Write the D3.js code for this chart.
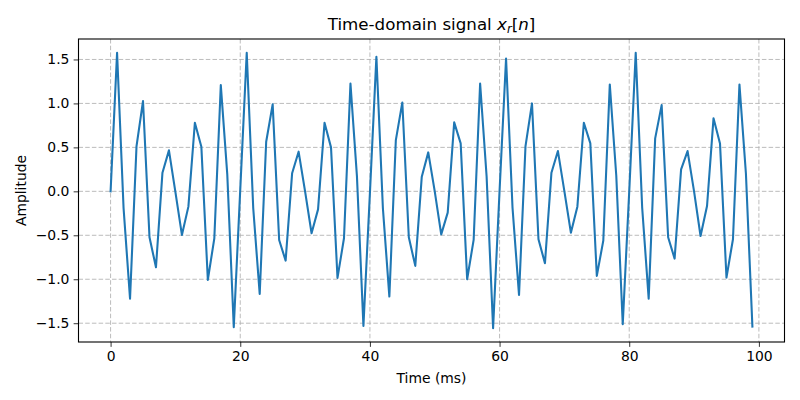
<!DOCTYPE html>
<html>
<head>
<meta charset="utf-8">
<script src="https://cdn.jsdelivr.net/npm/d3@7"></script>
<style>
  html, body { margin: 0; padding: 0; background: #fff; }
  svg { display: block; font-family: "DejaVu Sans", sans-serif; }
</style>
</head>
<body>
<svg id="chart" width="800" height="400"></svg>
<script>
// Sample index (ms) and amplitude values
const timeMs = d3.range(0, 100);
const amplitude = [
  0.0, 1.576, -0.19, -1.22, 0.515, 1.027, -0.523, -0.864, 0.212, 0.466,
  -0.01, -0.496, -0.174, 0.78, 0.508, -1.008, -0.534, 1.208, 0.19, -1.545,
  0.02, 1.576, -0.19, -1.167, 0.564, 0.989, -0.553, -0.788, 0.205, 0.451,
  0.0, -0.477, -0.205, 0.78, 0.5, -0.985, -0.534, 1.227, 0.17, -1.53,
  -0.02, 1.53, -0.19, -1.197, 0.583, 1.011, -0.523, -0.848, 0.167, 0.443,
  0.0, -0.489, -0.242, 0.784, 0.545, -1.0, -0.553, 1.227, 0.17, -1.557,
  0.01, 1.511, -0.19, -1.178, 0.515, 1.0, -0.545, -0.818, 0.212, 0.458,
  0.0, -0.47, -0.174, 0.78, 0.545, -0.962, -0.56, 1.216, 0.18, -1.511,
  0.0, 1.576, -0.19, -1.22, 0.602, 0.981, -0.523, -0.765, 0.25, 0.458,
  0.0, -0.508, -0.167, 0.83, 0.545, -0.981, -0.545, 1.216, 0.2, -1.538
];
const xTicks = [0, 20, 40, 60, 80, 100];
const yTicks = [-1.5, -1.0, -0.5, 0.0, 0.5, 1.0, 1.5];

const svg = d3.select("#chart");
const L = 78.5, R = 784.5, T = 39, B = 342;

const xMin = d3.min(timeMs), xMax = d3.max(timeMs);
const xPad = (xMax - xMin) * 0.05;
const yMin = d3.min(amplitude), yMax = d3.max(amplitude);
const yPad = (yMax - yMin) * 0.05;

const x = d3.scaleLinear().domain([xMin - xPad, xMax + xPad]).range([L, R]);
const y = d3.scaleLinear().domain([yMin - yPad, yMax + yPad]).range([B, T]);

const fmtY = v => d3.format(".1f")(v).replace("-", "\u2212");

// grid
const grid = svg.append("g").attr("stroke", "#b0b0b0").attr("stroke-opacity", 0.85)
  .attr("stroke-width", 1).attr("stroke-dasharray", "4.5,2.2").attr("fill", "none");
grid.selectAll("line.gx").data(xTicks).join("line")
  .attr("x1", d => x(d)).attr("x2", d => x(d)).attr("y1", T).attr("y2", B);
grid.selectAll("line.gy").data(yTicks).join("line")
  .attr("y1", d => y(d)).attr("y2", d => y(d)).attr("x1", L).attr("x2", R);

// line
const line = d3.line().x((d, i) => x(timeMs[i])).y(d => y(d));
svg.append("path").datum(amplitude)
  .attr("d", line).attr("fill", "none").attr("stroke", "#1f77b4")
  .attr("stroke-width", 2.08).attr("stroke-linejoin", "round").attr("stroke-linecap", "square");

// axes
const xAxis = d3.axisBottom(x).tickValues(xTicks).tickSize(4.86).tickPadding(4.2).tickFormat(d3.format("d"));
const yAxis = d3.axisLeft(y).tickValues(yTicks).tickSize(4.86).tickPadding(4.2).tickFormat(fmtY);

const gx = svg.append("g").attr("transform", `translate(0,${B})`).call(xAxis);
const gy = svg.append("g").attr("transform", `translate(${L},0)`).call(yAxis);
[gx, gy].forEach(g => {
  g.select(".domain").remove();
  g.selectAll(".tick line").attr("stroke", "#000").attr("stroke-width", 0.8);
  g.selectAll(".tick text").attr("fill", "#000").style("font-size", "13.9px")
    .style("font-family", "'DejaVu Sans', sans-serif");
});

// frame
svg.append("rect").attr("x", L).attr("y", T).attr("width", R - L).attr("height", B - T)
  .attr("fill", "none").attr("stroke", "#000").attr("stroke-width", 1.1);

// labels
svg.append("text").attr("x", (L + R) / 2).attr("y", 383).attr("text-anchor", "middle")
  .style("font-size", "13.9px").text("Time (ms)");
svg.append("text").attr("transform", `translate(26,${(T + B) / 2}) rotate(-90)`)
  .attr("text-anchor", "middle").style("font-size", "13.9px").text("Amplitude");

// title with math
const title = svg.append("text").attr("x", (L + R) / 2).attr("y", 30)
  .attr("text-anchor", "middle").style("font-size", "16.7px");
title.append("tspan").text("Time-domain signal ");
title.append("tspan").attr("font-style", "italic").text("x");
title.append("tspan").attr("font-style", "italic").attr("dy", 3).style("font-size", "11.5px").text("r");
title.append("tspan").attr("dy", -3).text("[");
title.append("tspan").attr("font-style", "italic").text("n");
title.append("tspan").text("]");
</script>
</body>
</html>
